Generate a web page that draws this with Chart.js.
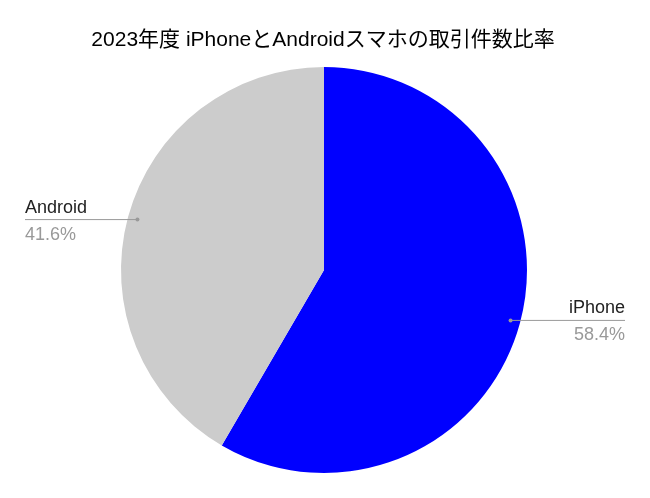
<!DOCTYPE html>
<html>
<head>
<meta charset="utf-8">
<script src="https://cdn.jsdelivr.net/npm/chart.js@4"></script>
<style>
  html, body { margin: 0; padding: 0; background: #fff; }
  #wrap { width: 650px; height: 498px; }
</style>
</head>
<body>
<div id="wrap"><canvas id="pieChart" width="650" height="498"></canvas></div>
<script>
const TITLE = '2023年度 iPhoneとAndroidスマホの取引件数比率';
const labels = ['iPhone', 'Android'];
const shares = [58.4, 41.6];
const colors = ['#0000ff', '#cccccc'];

// Leader lines + labels, Sheets style
const leaderLabels = {
  id: 'leaderLabels',
  afterDraw(chart) {
    const c = chart.ctx;
    const meta = chart.getDatasetMeta(0);
    const W = chart.width;

    c.save();
    c.font = '21px "Liberation Sans", "Noto Sans CJK JP", sans-serif';
    c.fillStyle = '#000';
    c.textAlign = 'center';
    c.textBaseline = 'alphabetic';
    c.fillText(TITLE, 323, 46);

    meta.data.forEach((arc, i) => {
      const p = arc.getProps(['x', 'y', 'startAngle', 'endAngle', 'outerRadius'], true);
      const mid = (p.startAngle + p.endAngle) / 2;
      const r = p.outerRadius * 0.952;
      const px = p.x + Math.cos(mid) * r;
      const py = p.y + Math.sin(mid) * r;
      const right = Math.cos(mid) >= 0;
      const ex = right ? W - 25 : 25;

      c.strokeStyle = '#999';
      c.lineWidth = 1;
      c.beginPath();
      c.moveTo(px, py);
      c.lineTo(ex, py);
      c.stroke();
      c.fillStyle = '#999';
      c.beginPath();
      c.arc(px, py, 2, 0, Math.PI * 2);
      c.fill();

      c.textAlign = right ? 'right' : 'left';
      c.font = '18px "Liberation Sans", sans-serif';
      c.fillStyle = '#222';
      c.fillText(labels[i], ex, py - 7);
      c.fillStyle = '#999';
      c.fillText(shares[i].toFixed(1) + '%', ex, py + 20);
    });
    c.restore();
  }
};

new Chart(document.getElementById('pieChart'), {
  type: 'pie',
  data: {
    labels: labels,
    datasets: [{
      data: shares,
      backgroundColor: colors,
      borderWidth: 0
    }]
  },
  options: {
    responsive: false,
    animation: false,
    layout: { padding: { top: 67, bottom: 25, left: 99, right: 101 } },
    plugins: {
      legend: { display: false },
      tooltip: { enabled: false },
      title: { display: false }
    }
  },
  plugins: [leaderLabels]
});
</script>
</body>
</html>
